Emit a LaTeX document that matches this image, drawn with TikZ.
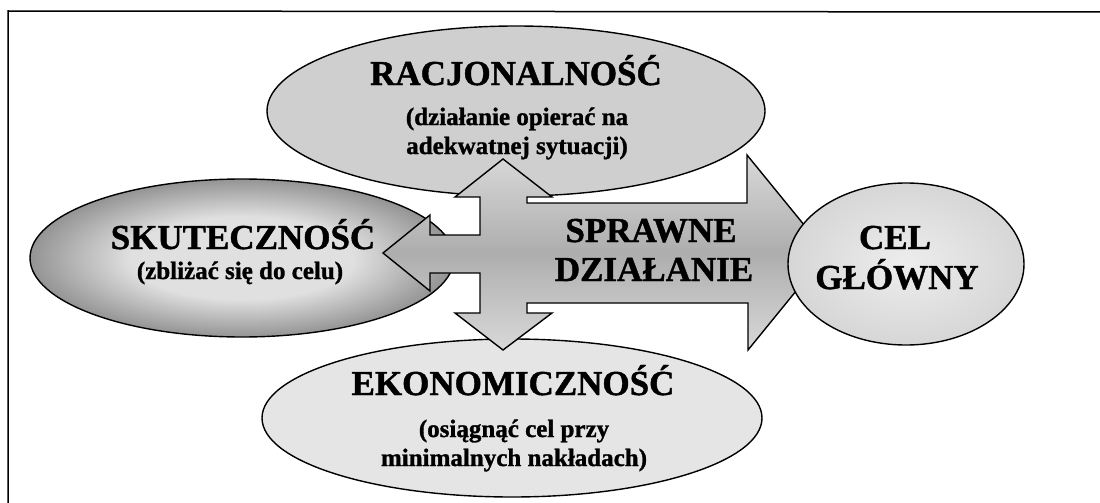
\documentclass[tikz,border=0pt]{standalone}
\usepackage{fontspec}
\setmainfont{Liberation Serif}[BoldFeatures={FakeBold=1.2}]
\usetikzlibrary{shapes.geometric}
\definecolor{racjfill}{gray}{0.81}
\definecolor{ekonfill}{gray}{0.90}
\definecolor{celfill}{gray}{0.84}
\definecolor{celin}{gray}{0.93}
\definecolor{skutin}{gray}{0.88}
\definecolor{skutout}{gray}{0.58}
\definecolor{arrowlight}{gray}{0.85}
\definecolor{arrowdark}{gray}{0.68}
% light centre with a darker rim
\pgfdeclareradialshading{rimglow}{\pgfpoint{0bp}{0bp}}{%
  color(0bp)=(skutin); color(13bp)=(skutin); color(25bp)=(skutout); color(50bp)=(skutout)}
\begin{document}
\begin{tikzpicture}[x=1pt,y=-1pt,
  oval/.style={ellipse, draw=black, line width=1.4pt, inner sep=0pt},
  title/.style={font=\bfseries\fontsize{35}{35}\selectfont, anchor=base, inner sep=0pt},
  sub/.style={font=\bfseries\fontsize{25}{29}\selectfont, anchor=base, inner sep=0pt},
]
\useasboundingbox (0,0) rectangle (1100,503);
% frame (left and top edges)
\draw[line width=1.5pt] (8,503) -- (8,11) -- (1100,12);

% side ovals
\node[oval, minimum width=424pt, minimum height=158pt, shading=rimglow] (skut) at (242,258) {};
\node[oval, fill=racjfill, minimum width=498pt, minimum height=170pt] (racj) at (516,111) {};
\node[oval, fill=ekonfill, minimum width=500pt, minimum height=158pt] (ekon) at (512,418) {};

% central cross of arrows
\coordinate (hub) at (503,254);
\path[draw=black, line width=1.4pt, line join=miter,
      top color=arrowlight, bottom color=arrowlight, middle color=arrowdark]
  (503,159) -- (552,197) -- (527,197) -- (527,203) -- (747,203) -- (747,155)
  -- (827,253) -- (748,350) -- (748,303) -- (527,303) -- (527,313) -- (552,313)
  -- (503,350) -- (455,313) -- (480,313) -- (480,273) -- (430,273) -- (430,291)
  -- (383,253) -- (430,215) -- (430,235) -- (480,235) -- (480,197) -- (455,197)
  -- cycle;

% goal oval
\node[oval, minimum width=236pt, minimum height=162pt, inner color=celin, outer color=celfill] (cel) at (906,264) {};

% texts
\node[title] (racj-t) at (516,85) {RACJONALNOŚĆ};
\node[sub] (racj-s1) at (517,125) {(działanie opierać na};
\node[sub] (racj-s2) at (517,154) {adekwatnej sytuacji)};

\node[title] (skut-t) at (243,249) {SKUTECZNOŚĆ};
\node[sub] (skut-s) at (240,279) {(zbliżać się do celu)};

\node[title] (spr-1) at (651,242) {SPRAWNE};
\node[title] (spr-2) at (654,281) {DZIAŁANIE};

\node[title] (cel-1) at (895,249) {CEL};
\node[title] (cel-2) at (897,289) {GŁÓWNY};

\node[title] (ekon-t) at (513,395) {EKONOMICZNOŚĆ};
\node[sub] (ekon-s1) at (514,437) {(osiągnąć cel przy};
\node[sub] (ekon-s2) at (514,466) {minimalnych nakładach)};
\end{tikzpicture}
\end{document}
